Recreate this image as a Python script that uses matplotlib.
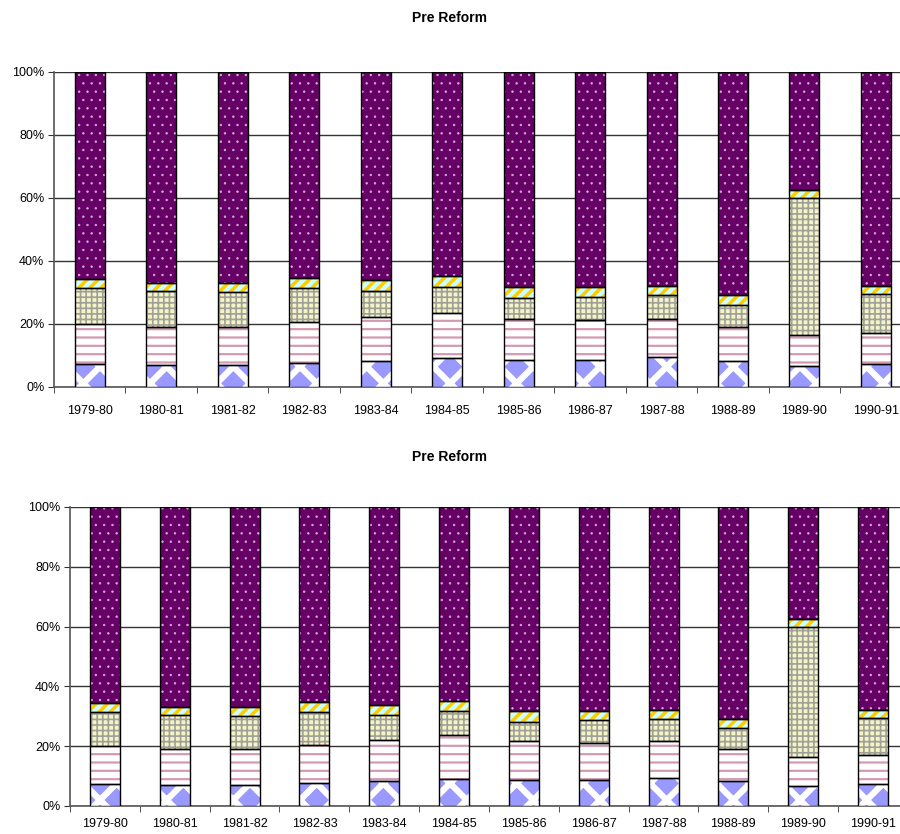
import numpy as np
import matplotlib
matplotlib.use("Agg")
import matplotlib.pyplot as plt
from matplotlib.ticker import FuncFormatter

plt.rcParams['font.family'] = ['Liberation Sans', 'DejaVu Sans']

years = ["1979-80", "1980-81", "1981-82", "1982-83", "1983-84", "1984-85",
         "1985-86", "1986-87", "1987-88", "1988-89", "1989-90", "1990-91"]

# shares (%) of each component, bottom to top
blue = [7.3, 6.9, 6.9, 7.7, 8.4, 9.1, 8.7, 8.7, 9.4, 8.4, 6.7, 7.2]
pink = [12.6, 12.2, 12.2, 12.8, 13.8, 14.5, 13.0, 12.5, 12.3, 10.6, 9.8, 9.8]
check = [11.4, 11.4, 11.0, 10.8, 8.2, 8.1, 6.5, 7.5, 7.5, 7.0, 43.4, 12.4]
yellow = [3.0, 2.5, 2.9, 3.4, 3.5, 3.5, 3.4, 2.9, 3.0, 3.1, 2.6, 2.7]
purple = [65.7, 67.0, 67.0, 65.3, 66.1, 64.8, 68.4, 68.4, 67.8, 70.9, 37.5, 67.9]

# (values, face, hatch colour, hatch, hatch line width)
series = [
    (blue, "#9999FF", "white", "x", 4.5),
    (pink, "white", "#D49AB4", "--", 1.6),
    (check, "#F4F4C4", "#A0A09A", "+++", 1.2),
    (yellow, "#CCFFFF", "#FFCC00", "///", 2.5),
    (purple, "#660066", "#D0B0D0", "..", 0.5),
]


def draw(ax, width, pad):
    x = np.arange(len(years))
    bottom = np.zeros(len(years))
    for vals, face, hcol, hatch, hlw in series:
        v = np.array(vals)
        with plt.rc_context({'hatch.linewidth': hlw}):
            bars = ax.bar(x, v, width, bottom=bottom, color=face,
                          edgecolor=hcol, hatch=hatch, linewidth=0, zorder=3)
        for b in bars:
            if hasattr(b, "set_hatch_linewidth"):
                b.set_hatch_linewidth(hlw)
        ax.bar(x, v, width, bottom=bottom, fill=False, edgecolor="black",
               linewidth=1.0, zorder=4)
        bottom += v
    ax.set_xlim(-0.5, len(years) - 0.5)
    ax.set_ylim(0, 100)
    ax.set_yticks(np.arange(0, 101, 20))
    ax.yaxis.set_major_formatter(FuncFormatter(lambda v, p: f"{v:.0f}%"))
    ax.set_xticks(x)
    ax.set_xticklabels(years)
    ax.set_xticks(np.arange(-0.5, len(years), 1), minor=True)
    ax.tick_params(axis="x", which="major", length=0, pad=pad, labelsize=9)
    ax.tick_params(axis="x", which="minor", length=4, color="#333333")
    ax.tick_params(axis="y", length=4, pad=3, labelsize=9, color="#333333")
    ax.grid(axis="y", color="#333333", linewidth=1.0, zorder=1)
    for s in ["top", "right"]:
        ax.spines[s].set_visible(False)
    for s in ["left", "bottom"]:
        ax.spines[s].set_color("#555555")
        ax.spines[s].set_linewidth(1.2)
    ax.set_axisbelow(True)


fig = plt.figure(figsize=(9, 8.34), dpi=100)

ax1 = fig.add_axes([0.060, 0.536, 0.953, 0.3777])
draw(ax1, 0.42, 13)
fig.text(0.5, 1 - 18 / 834, "Pre Reform", ha="center", va="center",
         fontsize=10, fontweight="bold")

ax2 = fig.add_axes([0.0778, 0.0336, 0.931, 0.3585])
draw(ax2, 0.43, 9)
fig.text(0.5, 1 - 457 / 834, "Pre Reform", ha="center", va="center",
         fontsize=10, fontweight="bold")

fig.savefig("out.png", dpi=100)
